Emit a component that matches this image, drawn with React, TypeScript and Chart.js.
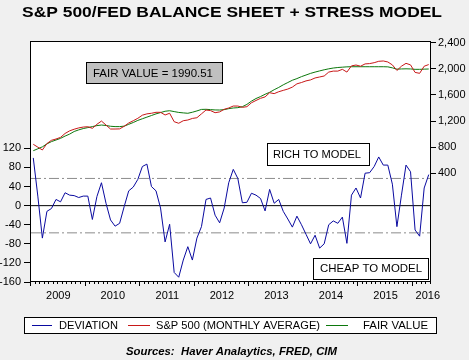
import React, { useEffect, useRef } from "react";
import { Chart, registerables } from "chart.js";

Chart.register(...registerables);

// ---------- data (monthly, Jan 2009 .. Apr 2016) ----------
const YEARS = [2009, 2010, 2011, 2012, 2013, 2014, 2015, 2016];
const YEAR_LABEL_POS = [6, 18, 30, 42, 54, 66, 78, 87.3];
const MONTH_COUNT = 88;

const DEVIATION = [
  100, 20, -68, -12, -6, 13, 8, 27, 22, 21, 17, 20,
  20, -29, 19, 48, 5, -30, -43, -37, -2, 31, 39, 55,
  82, 87, 40, 31, -5, -76, -39, -140, -150, -114, -86, -114,
  -68, -44, 13, 16, -20, -36, -5, 48, 76, 57, 6, 7,
  26, 22, 15, -11, 34, 5, 13, -12, -28, -45, -22, -40,
  -60, -80, -62, -89, -80, -40, -32, -37, -24, -79, 22, 37,
  16, 68, 69, 82, 102, 85, 85, 45, -44, 22, 85, 71,
  -51, -64, 37, 65,
];

const SP500 = [
  844, 800, 757, 855, 905, 925, 950, 1010, 1050, 1075, 1095, 1108,
  1113, 1089, 1150, 1200, 1139, 1078, 1078, 1080, 1120, 1170, 1205, 1242,
  1290, 1310, 1319, 1334, 1334, 1293, 1319, 1190, 1166, 1205, 1216, 1240,
  1251, 1310, 1369, 1360, 1328, 1340, 1380, 1400, 1430, 1430, 1410, 1420,
  1480, 1515, 1548, 1570, 1634, 1620, 1649, 1670, 1690, 1720, 1770, 1790,
  1815, 1830, 1860, 1875, 1890, 1950, 1965, 1965, 1992, 1950, 2045, 2058,
  2040, 2075, 2080, 2094, 2115, 2120, 2105, 2060, 1975, 2040, 2084, 2060,
  1945, 1931, 2040, 2065,
];

const FAIR_VALUE = [
  746, 775, 805, 850, 885, 910, 935, 970, 1000, 1040, 1065, 1085,
  1100, 1115, 1130, 1139, 1132, 1120, 1115, 1115, 1122, 1150, 1178, 1210,
  1235, 1260, 1285, 1310, 1330, 1350, 1358, 1345, 1332, 1325, 1319, 1335,
  1355, 1378, 1380, 1375, 1370, 1369, 1375, 1390, 1400, 1405, 1420, 1455,
  1505, 1545, 1575, 1610, 1640, 1680, 1715, 1755, 1790, 1825, 1850, 1880,
  1905, 1930, 1950, 1968, 1985, 2000, 2012, 2020, 2025, 2030, 2032, 2032,
  2032, 2032, 2032, 2032, 2032, 2032, 2030, 2015, 1995, 1998, 2000, 1998,
  1992, 1992, 1995, 1997,
];

const BAND_LEVELS = [57, -57];
const ZERO_LEVEL = [0];
const LEFT_TICKS = [-160, -120, -80, -40, 0, 40, 80, 120];
const RIGHT_TICKS = [400, 800, 1200, 1600, 2000, 2400];

const TITLE = "S&P 500/FED BALANCE SHEET + STRESS MODEL";
const FAIR_VALUE_NOTE = "FAIR VALUE = 1990.51";
const RICH_NOTE = "RICH TO MODEL";
const CHEAP_NOTE = "CHEAP TO MODEL";
const SOURCE = "Sources:  Haver Analaytics, FRED, CIM";
const SERIES_NAMES = ["DEVIATION", "S&P 500 (MONTHLY AVERAGE)", "FAIR VALUE"];

// ---------- style ----------
const W = 469;
const H = 360;
const FONT = '"Liberation Sans", Arial, sans-serif';
const BLUE = "#0a0aa0";
const RED = "#c81818";
const GREEN = "#0c780c";

function fitText(
  ctx: CanvasRenderingContext2D,
  text: string,
  x: number,
  y: number,
  width: number,
  font: string
) {
  ctx.save();
  ctx.font = font;
  ctx.textAlign = "left";
  ctx.textBaseline = "middle";
  ctx.fillStyle = "#000";
  const w = ctx.measureText(text).width;
  ctx.translate(x, y);
  ctx.scale(width / w, 1);
  ctx.fillText(text, 0, 0);
  ctx.restore();
}

function box(
  ctx: CanvasRenderingContext2D,
  x: number,
  y: number,
  w: number,
  h: number,
  fill: string
) {
  ctx.save();
  ctx.fillStyle = fill;
  ctx.fillRect(x, y, w, h);
  ctx.strokeStyle = "#000";
  ctx.lineWidth = 1;
  ctx.strokeRect(x + 0.5, y + 0.5, w - 1, h - 1);
  ctx.restore();
}

const decorPlugin = {
  id: "decor",
  beforeDraw(chart: any) {
    const { ctx, chartArea: a } = chart;
    ctx.save();
    ctx.fillStyle = "#f0f0f0";
    ctx.fillRect(0, 0, W, H);
    ctx.fillStyle = "#ffffff";
    ctx.fillRect(a.left, a.top, a.right - a.left, a.bottom - a.top);
    ctx.restore();
  },
  afterDraw(chart: any) {
    const { ctx, chartArea: a } = chart;
    const xs = chart.scales.x;
    ctx.save();
    // frame
    ctx.strokeStyle = "#000";
    ctx.lineWidth = 1;
    ctx.strokeRect(a.left - 0.5, a.top + 0.5, a.right - a.left, a.bottom - a.top - 1);
    // month ticks on x axis
    ctx.beginPath();
    for (let m = 0; m <= MONTH_COUNT; m++) {
      const px = Math.round(xs.getPixelForValue(m)) - 0.5;
      const len = m % 12 === 0 ? 4 : 2;
      ctx.moveTo(px, a.bottom);
      ctx.lineTo(px, a.bottom + len);
    }
    ctx.stroke();
    // year labels
    ctx.font = `11px ${FONT}`;
    ctx.fillStyle = "#000";
    ctx.textAlign = "center";
    ctx.textBaseline = "middle";
    YEAR_LABEL_POS.forEach((p, i) => {
      ctx.fillText(String(YEARS[i]), xs.getPixelForValue(p), a.bottom + 14);
    });
    ctx.restore();

    // notes
    box(ctx, 86, 62, 137, 22, "#c0c0c0");
    fitText(ctx, FAIR_VALUE_NOTE, 93, 73.5, 120, `11px ${FONT}`);
    box(ctx, 267, 143, 103, 23, "#ffffff");
    fitText(ctx, RICH_NOTE, 273, 155, 88, `11px ${FONT}`);
    box(ctx, 313, 258, 116, 22, "#ffffff");
    fitText(ctx, CHEAP_NOTE, 320, 269, 102, `11px ${FONT}`);

    // title
    fitText(ctx, TITLE, 22, 13, 420, `bold 15px ${FONT}`);

    // legend
    box(ctx, 24, 317, 413, 17, "#ffffff");
    const items = [
      { color: BLUE, x1: 32, x2: 52, tx: 59, tw: 59 },
      { color: RED, x1: 128, x2: 150, tx: 156, tw: 164 },
      { color: GREEN, x1: 326, x2: 348, tx: 363, tw: 65 },
    ];
    items.forEach((it, i) => {
      ctx.save();
      ctx.strokeStyle = it.color;
      ctx.lineWidth = 1;
      ctx.beginPath();
      ctx.moveTo(it.x1, 325.5);
      ctx.lineTo(it.x2, 325.5);
      ctx.stroke();
      ctx.restore();
      fitText(ctx, SERIES_NAMES[i], it.tx, 326, it.tw, `11px ${FONT}`);
    });

    // source
    fitText(ctx, SOURCE, 126, 352, 211, `italic bold 11px ${FONT}`);
  },
};

function App() {
  const ref = useRef<HTMLCanvasElement | null>(null);

  useEffect(() => {
    document.body.style.margin = "0";
    if (!ref.current) return;
    const toXY = (arr: number[]) => arr.map((v, i) => ({ x: i + 0.5, y: v }));
    const hLine = (v: number) => [
      { x: 0, y: v },
      { x: MONTH_COUNT, y: v },
    ];
    const base = { pointRadius: 0, borderWidth: 1, tension: 0, fill: false };

    const chart = new Chart(ref.current, {
      type: "line",
      data: {
        datasets: [
          { ...base, label: SERIES_NAMES[0], data: toXY(DEVIATION), borderColor: BLUE, yAxisID: "y" },
          { ...base, label: SERIES_NAMES[1], data: toXY(SP500), borderColor: RED, yAxisID: "y2" },
          { ...base, label: SERIES_NAMES[2], data: toXY(FAIR_VALUE), borderColor: GREEN, yAxisID: "y2" },
          ...BAND_LEVELS.map((v) => ({
            ...base,
            label: "band",
            data: hLine(v),
            borderColor: "#8c8c8c",
            borderDash: [10, 3, 2, 3],
            yAxisID: "y",
          })),
          ...ZERO_LEVEL.map((v) => ({
            ...base,
            label: "zero",
            data: hLine(v),
            borderColor: "#000000",
            yAxisID: "y",
          })),
        ],
      },
      options: {
        animation: false,
        responsive: false,
        devicePixelRatio: 1,
        events: [],
        layout: { padding: { top: 41, bottom: 58, left: 0, right: 0 } },
        plugins: {
          legend: { display: false },
          title: { display: false },
          tooltip: { enabled: false },
        },
        scales: {
          x: {
            type: "linear",
            min: 0,
            max: MONTH_COUNT,
            grid: { display: false },
            border: { display: false },
            ticks: { display: false },
            afterFit: (s: any) => {
              s.height = 20;
            },
          },
          y: {
            type: "linear",
            position: "left",
            min: -160,
            max: 345,
            grid: { drawOnChartArea: false, drawTicks: true, tickLength: 7, color: "#000" },
            border: { display: false },
            afterBuildTicks: (s: any) => {
              s.ticks = LEFT_TICKS.map((v) => ({ value: v }));
            },
            afterFit: (s: any) => {
              s.width = 31;
            },
            ticks: {
              padding: 3,
              color: "#000",
              font: { family: FONT, size: 11 },
              callback: (v: any) => String(v),
            },
          },
          y2: {
            type: "linear",
            position: "right",
            min: -1265,
            max: 2426,
            grid: { drawOnChartArea: false, drawTicks: true, tickLength: 5, color: "#000" },
            border: { display: false },
            afterBuildTicks: (s: any) => {
              s.ticks = RIGHT_TICKS.map((v) => ({ value: v }));
            },
            afterFit: (s: any) => {
              s.width = 38;
            },
            ticks: {
              padding: 2,
              color: "#000",
              font: { family: FONT, size: 11 },
              callback: (v: any) => Number(v).toLocaleString("en-US"),
            },
          },
        },
      } as any,
      plugins: [decorPlugin],
    });
    return () => chart.destroy();
  }, []);

  return (
    <div style={{ position: "fixed", left: 0, top: 0, width: W, height: H, background: "#f0f0f0" }}>
      <canvas ref={ref} width={W} height={H} style={{ display: "block", width: W, height: H }} />
    </div>
  );
}

export default App;
